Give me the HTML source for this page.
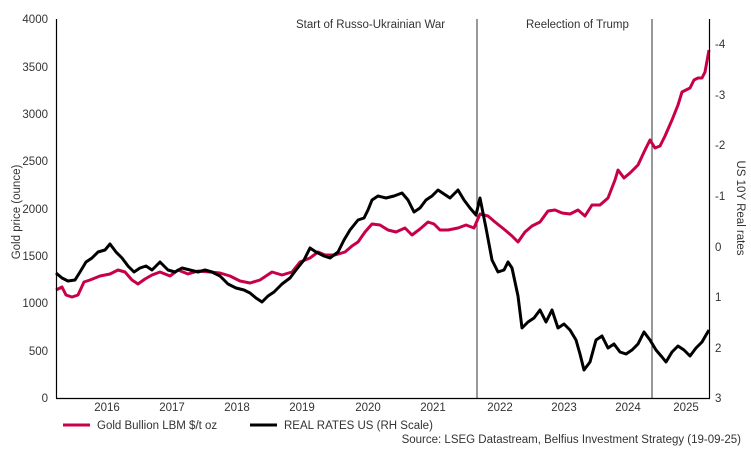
<!DOCTYPE html>
<html><head><meta charset="utf-8"><style>
body{margin:0;background:#fff;}
svg{display:block;font-family:"Liberation Sans",sans-serif;}
text{fill:#333;font-size:11.5px;}
</style></head><body>
<svg width="751" height="449" viewBox="0 0 751 449">
<g text-anchor="end">
<text x="48" y="23">4000</text><text x="48" y="71">3500</text><text x="48" y="118">3000</text>
<text x="48" y="165">2500</text><text x="48" y="213">2000</text><text x="48" y="260">1500</text>
<text x="48" y="307">1000</text><text x="48" y="355">500</text><text x="48" y="402">0</text>
</g>
<g text-anchor="start">
<text x="715" y="48">-4</text><text x="715" y="99">-3</text><text x="715" y="149">-2</text>
<text x="715" y="200">-1</text><text x="715" y="251">0</text><text x="715" y="301">1</text>
<text x="715" y="352">2</text><text x="715" y="402">3</text>
</g>
<text transform="translate(20,212) rotate(-90)" text-anchor="middle">Gold price (ounce)</text>
<text transform="translate(737,208) rotate(90)" text-anchor="middle">US 10Y Real rates</text>
<g text-anchor="middle">
<text x="107" y="411">2016</text><text x="172" y="411">2017</text><text x="237" y="411">2018</text>
<text x="302" y="411">2019</text><text x="368" y="411">2020</text><text x="433" y="411">2021</text>
<text x="500" y="411">2022</text><text x="564" y="411">2023</text><text x="628" y="411">2024</text>
<text x="686" y="411">2025</text>
</g>
<text x="296" y="28">Start of Russo-Ukrainian War</text>
<text x="526" y="28">Reelection of Trump</text>
<line x1="477" y1="19" x2="477" y2="398" stroke="#333" stroke-width="1"/>
<line x1="652" y1="19" x2="652" y2="398" stroke="#333" stroke-width="1"/>
<polyline fill="none" stroke="#c8004a" stroke-width="3" stroke-linejoin="round" points="56,290 62,287 66,295 72,297 78,295 84,282 90,280 100,276 110,274 118,270 125,272 132,280 138,284 145,279 152,275 160,272 170,276 178,270 188,274 198,271 210,272 220,273 230,276 240,281 250,283 260,280 272,272 282,275 292,272 300,262 310,258 318,252 325,255 335,255 345,252 352,246 358,242 365,232 372,224 380,225 388,230 396,232 405,228 412,235 420,229 428,222 434,224 440,230 448,230 458,228 466,225 474,228 480,214 488,216 495,222 505,230 512,236 518,242 525,232 532,226 540,222 548,211 555,210 562,213 570,214 578,210 585,216 592,205 600,205 608,198 615,180 618,170 624,178 630,173 638,165 645,150 650,140 655,148 660,146 665,136 672,120 678,105 682,92 686,90 690,88 694,80 698,78 702,78 705,72 709,50"/>
<polyline fill="none" stroke="#000" stroke-width="3" stroke-linejoin="round" points="56,273 62,278 68,281 75,280 80,272 86,262 92,258 98,252 105,250 110,244 116,252 122,258 128,266 134,272 140,268 146,266 152,270 160,262 168,270 175,272 182,268 190,270 198,272 205,270 212,272 220,276 228,284 236,288 244,290 250,293 256,298 262,302 268,296 274,292 282,284 290,278 296,270 304,260 310,248 316,252 324,256 330,258 338,252 344,240 350,230 358,220 364,218 368,210 372,200 378,196 386,198 394,196 402,193 408,200 414,212 420,208 426,200 432,196 438,190 444,194 450,198 458,190 464,200 470,208 476,215 480,198 486,228 492,260 498,272 504,270 508,262 512,268 518,296 522,328 528,322 534,318 540,310 546,322 552,310 558,328 564,324 570,330 576,340 580,354 584,370 590,362 596,340 602,336 608,348 614,344 620,352 626,354 632,350 638,344 644,332 650,340 656,350 662,357 666,362 672,352 678,346 684,350 690,356 696,348 702,342 706,335 709,330"/>
<line x1="56.5" y1="19" x2="56.5" y2="398" stroke="#000" stroke-width="1.2"/>
<line x1="709.5" y1="19" x2="709.5" y2="398" stroke="#000" stroke-width="1.2"/>
<line x1="56" y1="398.5" x2="710" y2="398.5" stroke="#000" stroke-width="1.2"/>
<line x1="63" y1="425" x2="90" y2="425" stroke="#c8004a" stroke-width="3"/>
<text x="97" y="429">Gold Bullion LBM $/t oz</text>
<line x1="250" y1="425" x2="277" y2="425" stroke="#000" stroke-width="3"/>
<text x="284" y="429">REAL RATES US (RH Scale)</text>
<text x="741" y="443" text-anchor="end">Source: LSEG Datastream, Belfius Investment Strategy (19-09-25)</text>
</svg>
</body></html>
